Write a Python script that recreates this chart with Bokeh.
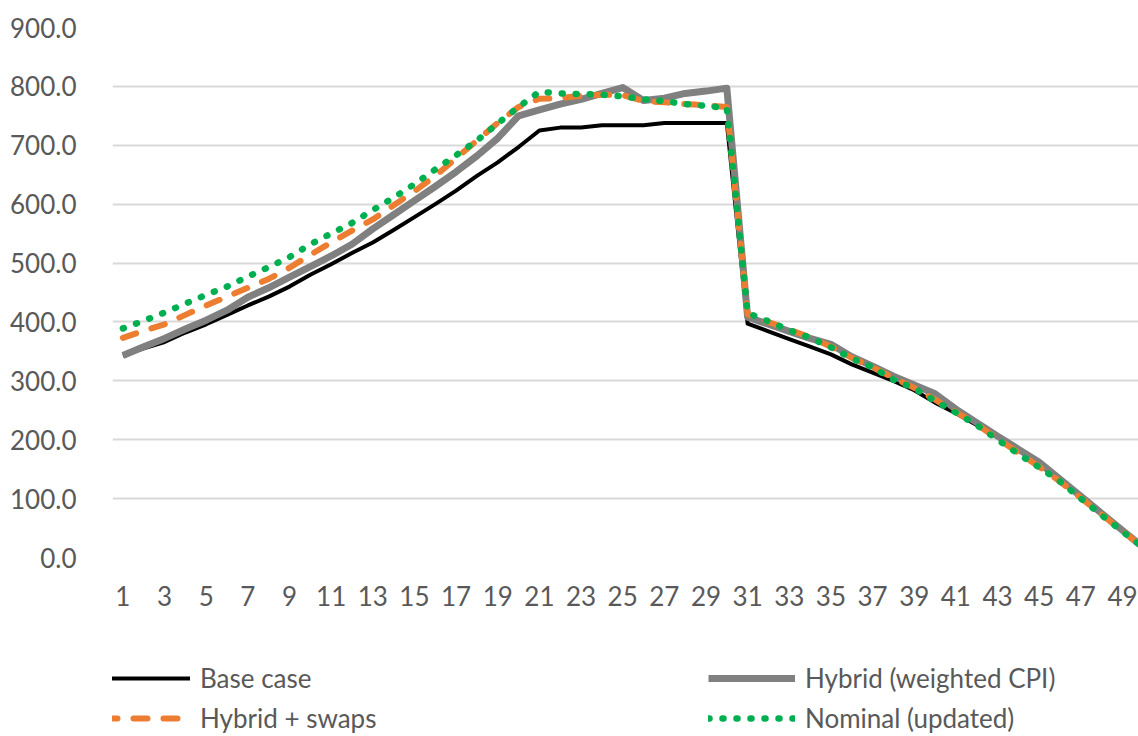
from bokeh.plotting import figure
from bokeh.layouts import column
from bokeh.models import (Range1d, FixedTicker, NumeralTickFormatter, Legend, LegendItem)
from bokeh.embed import file_html
from bokeh.resources import INLINE

# Period index 1..50
periods = list(range(1, 51))

base_case = [343, 355, 366, 382, 396, 412, 428, 443, 460, 480,
             498, 517, 535, 556, 578, 600, 623, 648, 671, 697,
             725, 730, 730, 734, 734, 734, 738, 738, 738, 738,
             397, 384, 371, 358, 345, 328, 314, 300, 284, 263,
             245, 225, 204, 182, 158, 130, 102, 73, 45, 17]

hybrid_weighted_cpi = [343, 358, 372, 388, 403, 420, 442, 458, 476, 494,
                       512, 532, 558, 582, 606, 630, 655, 682, 712, 750,
                       760, 770, 778, 788, 798, 776, 780, 788, 792, 797,
                       408, 396, 384, 372, 362, 341, 325, 308, 293, 278,
                       252, 229, 206, 184, 162, 133, 104, 75, 46, 17]

hybrid_swaps = [373, 385, 396, 412, 428, 443, 458, 473, 492, 514,
                535, 555, 574, 598, 622, 648, 678, 708, 738, 765,
                779, 780, 784, 786, 785, 775, 773, 770, 768, 765,
                413, 400, 387, 374, 358, 339, 323, 305, 288, 268,
                247, 226, 202, 178, 154, 129, 101, 73, 45, 17]

nominal_updated = [389, 402, 416, 431, 446, 460, 477, 493, 510, 532,
                   550, 568, 590, 611, 634, 659, 683, 708, 737, 765,
                   791, 788, 787, 786, 783, 778, 775, 770, 767, 763,
                   415, 401, 386, 373, 357, 338, 323, 302, 287, 266,
                   246, 225, 200, 176, 153, 129, 100, 72, 44, 17]

tick_labels = [str(v) for v in range(1, 50, 2)]

FONT = "Lato"
TEXT_COLOR = "#595959"

STYLES = {
    "Base case": dict(line_color="black", line_width=4, line_join="round"),
    "Hybrid (weighted CPI)": dict(line_color="#808080", line_width=7, line_join="round"),
    "Hybrid + swaps": dict(line_color="#ED7D31", line_width=6, line_dash="14 16",
                           line_cap="round", line_join="round"),
    "Nominal (updated)": dict(line_color="#00B050", line_width=6.5, line_dash="1 13",
                              line_cap="round", line_join="round"),
}
SERIES = [("Base case", base_case),
          ("Hybrid (weighted CPI)", hybrid_weighted_cpi),
          ("Hybrid + swaps", hybrid_swaps),
          ("Nominal (updated)", nominal_updated)]

# ---- main chart ----
p = figure(width=1138, height=618, output_backend="svg", toolbar_location=None,
           x_range=Range1d(0.5, 49.77), y_range=Range1d(0, 900),
           min_border_left=112, min_border_right=0, min_border_top=27,
           min_border_bottom=61)
p.outline_line_color = None
p.background_fill_color = "white"
p.border_fill_color = "white"

p.xaxis.ticker = FixedTicker(ticks=[int(t) for t in tick_labels])
p.yaxis.ticker = FixedTicker(ticks=list(range(0, 901, 100)))
p.yaxis.formatter = NumeralTickFormatter(format="0.0")
for ax in (p.xaxis[0], p.yaxis[0]):
    ax.axis_line_color = None
    ax.major_tick_line_color = None
    ax.minor_tick_line_color = None
    ax.major_label_text_font = FONT
    ax.major_label_text_font_size = "26px"
    ax.major_label_text_color = TEXT_COLOR
p.yaxis.major_label_standoff = 30
p.xaxis.major_label_standoff = 22

p.xgrid.grid_line_color = None
p.ygrid.grid_line_color = "#d9d9d9"
p.ygrid.grid_line_width = 2

for name, vals in SERIES:
    p.line(periods, vals, **STYLES[name])

# ---- legend strip below the chart (its frame lines up with the chart's) ----
lg = figure(width=1138, height=118, output_backend="svg", toolbar_location=None,
            x_range=Range1d(0, 1), y_range=Range1d(0, 1),
            x_axis_location=None, y_axis_location=None,
            min_border_left=112, min_border_right=0, min_border_top=0,
            min_border_bottom=0)
lg.outline_line_color = None
lg.xgrid.grid_line_color = None
lg.ygrid.grid_line_color = None
# single-point key renderers: they only supply the legend swatches
keys = {name: lg.line([0], [0], **STYLES[name]) for name, _ in SERIES}


def make_legend(names, x):
    return Legend(items=[LegendItem(label=n, renderers=[keys[n]]) for n in names],
                  location=(x, 1), orientation="vertical",
                  glyph_width=87, glyph_height=34, label_height=34,
                  label_standoff=10, spacing=6, padding=0, margin=0,
                  border_line_color=None, background_fill_alpha=0,
                  label_text_font=FONT, label_text_font_size="26px",
                  label_text_color=TEXT_COLOR)


lg.add_layout(make_legend(["Base case", "Hybrid + swaps"], -9), "center")
lg.add_layout(make_legend(["Hybrid (weighted CPI)", "Nominal (updated)"], 596), "center")

layout = column(p, lg, spacing=0)
open("out.html", "w").write(file_html(layout, INLINE))
